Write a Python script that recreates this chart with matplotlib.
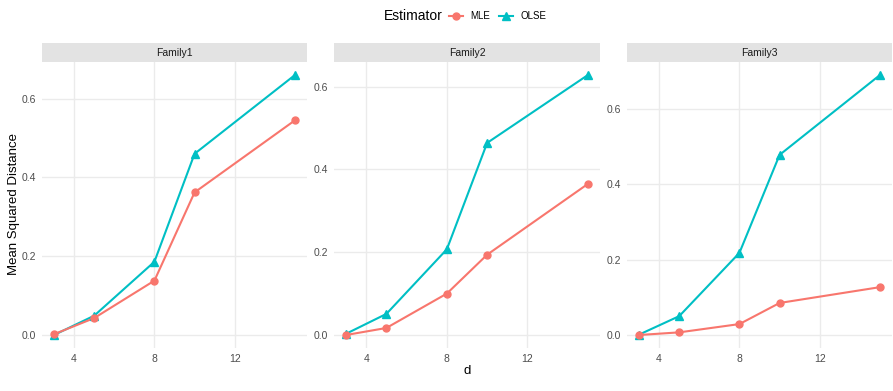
import matplotlib
matplotlib.use("Agg")
import matplotlib.pyplot as plt
from matplotlib.lines import Line2D

d = [3, 5, 8, 10, 15]
families = ["Family1", "Family2", "Family3"]
mle = [
    [0.002, 0.043, 0.138, 0.362, 0.545],
    [0.000, 0.017, 0.100, 0.194, 0.365],
    [0.000, 0.007, 0.029, 0.085, 0.127],
]
olse = [
    [0.000, 0.049, 0.186, 0.460, 0.660],
    [0.003, 0.051, 0.207, 0.464, 0.628],
    [0.001, 0.050, 0.218, 0.478, 0.690],
]

red = "#F8766D"
teal = "#00BFC4"
W, H = 893, 391

plt.rcParams["font.family"] = ["Liberation Sans", "DejaVu Sans"]
fig = plt.figure(figsize=(W / 100, H / 100), dpi=100)

# panel pixel boxes (left, right), shared top/bottom
panels = [(42, 307), (334, 600), (627, 892)]
top, bottom = 62, 348
strip_h = 19

for i, (l, r) in enumerate(panels):
    ax = fig.add_axes([l / W, 1 - bottom / H, (r - l) / W, (bottom - top) / H])
    ax.plot(d, olse[i], color=teal, lw=1.5, zorder=3)
    ax.plot(d, mle[i], color=red, lw=1.5, zorder=3)
    ax.plot(d, olse[i], "^", color=teal, ms=5.5, zorder=4)
    ax.plot(d, mle[i], "o", color=red, ms=5, zorder=5)
    ymax = max(max(mle[i]), max(olse[i]))
    pad = ymax * 0.05
    ax.set_ylim(-pad, ymax + pad)
    ax.set_xlim(2.4, 15.6)
    ax.set_xticks([4, 8, 12])
    ax.set_yticks([0.0, 0.2, 0.4, 0.6])
    ax.set_yticklabels(["0.0", "0.2", "0.4", "0.6"])
    ax.grid(True, color="#EBEBEB", lw=1.0, zorder=0)
    for s in ax.spines.values():
        s.set_visible(False)
    ax.tick_params(length=0, labelsize=7.5, labelcolor="#4D4D4D", pad=4)
    # strip
    sax = fig.add_axes([l / W, 1 - top / H, (r - l) / W, strip_h / H])
    sax.set_facecolor("#E3E3E3")
    sax.set_xticks([])
    sax.set_yticks([])
    for s in sax.spines.values():
        s.set_visible(False)
    sax.text(0.5, 0.5, families[i], ha="center", va="center", fontsize=7.5, color="#1A1A1A",
             transform=sax.transAxes)

fig.text(14 / W, 1 - 204 / H, "Mean Squared Distance", rotation=90, ha="center", va="center",
         fontsize=9.5, color="black")
fig.text(467 / W, 1 - 371 / H, "d", ha="center", va="center", fontsize=9.5, color="black")

fig.text(443 / W, 1 - 16 / H, "Estimator", ha="right", va="center", fontsize=10, color="black")
handles = [
    Line2D([], [], color=red, lw=1.5, marker="o", ms=5),
    Line2D([], [], color=teal, lw=1.5, marker="^", ms=5.5),
]
fig.legend(handles, ["MLE", "OLSE"], loc="center left", bbox_to_anchor=(449 / W, 1 - 16 / H),
           ncol=2, frameon=False, fontsize=7, handlelength=1.4, handletextpad=0.8,
           columnspacing=0.9, borderpad=0, borderaxespad=0)

fig.savefig("out.png", dpi=100, facecolor="white")
